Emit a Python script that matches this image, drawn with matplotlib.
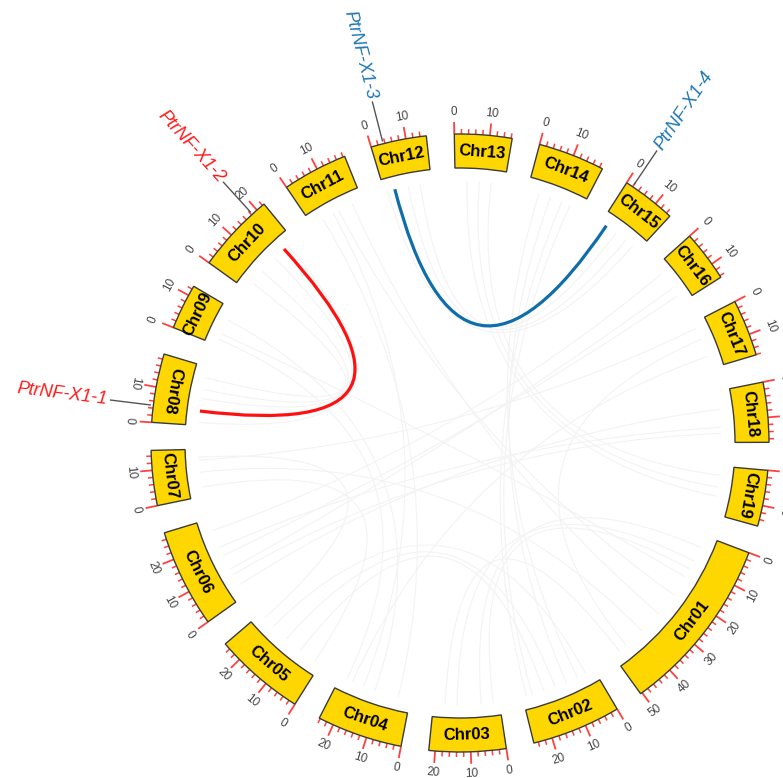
import numpy as np
import matplotlib
matplotlib.use("Agg")
import matplotlib.pyplot as plt
from matplotlib.patches import Wedge, PathPatch
from matplotlib.path import Path

plt.rcParams['font.family'] = ['Liberation Sans', 'DejaVu Sans']

# Poplar chromosomes and their lengths (Mb)
chromosomes = ["Chr01", "Chr02", "Chr03", "Chr04", "Chr05", "Chr06", "Chr07",
               "Chr08", "Chr09", "Chr10", "Chr11", "Chr12", "Chr13", "Chr14",
               "Chr15", "Chr16", "Chr17", "Chr18", "Chr19"]
lengths_mb = [50.5, 25.3, 21.8, 24.3, 25.9, 27.9, 15.6, 19.5, 12.9, 22.6,
              18.5, 15.8, 16.3, 18.9, 15.3, 14.5, 16.1, 17.0, 15.9]

# NF-X1 genes: name, chromosome, position (Mb), colour group
genes = ["PtrNF-X1-1", "PtrNF-X1-2", "PtrNF-X1-3", "PtrNF-X1-4"]
gene_chr = ["Chr08", "Chr10", "Chr12", "Chr15"]
gene_pos = [4.8, 18.3, 3.5, 2.0]
gene_colors = ["#ff1a1a", "#ff1a1a", "#1f78b4", "#1f78b4"]

# segmental duplication pairs (indices into genes)
dup_pairs = [(0, 1), (2, 3)]
dup_colors = ["#ff1010", "#0f6eaa"]

# genome-wide collinear blocks drawn as a faint background
bg_links = [
    ("Chr01", 4, "Chr03", 6), ("Chr01", 9, "Chr03", 14), ("Chr01", 15, "Chr09", 4),
    ("Chr01", 22, "Chr11", 10), ("Chr01", 30, "Chr11", 15), ("Chr01", 38, "Chr07", 8),
    ("Chr01", 45, "Chr17", 6), ("Chr02", 3, "Chr05", 20), ("Chr02", 10, "Chr14", 8),
    ("Chr02", 18, "Chr05", 8), ("Chr02", 22, "Chr14", 15), ("Chr03", 18, "Chr01", 48),
    ("Chr04", 4, "Chr11", 4), ("Chr04", 12, "Chr09", 9), ("Chr04", 20, "Chr17", 12),
    ("Chr05", 2, "Chr07", 3), ("Chr05", 14, "Chr02", 14), ("Chr06", 4, "Chr18", 6),
    ("Chr06", 10, "Chr16", 9), ("Chr06", 18, "Chr18", 12), ("Chr06", 24, "Chr16", 3),
    ("Chr07", 12, "Chr17", 2), ("Chr08", 12, "Chr10", 8), ("Chr08", 16, "Chr10", 3),
    ("Chr09", 2, "Chr04", 22), ("Chr10", 14, "Chr08", 9), ("Chr11", 8, "Chr04", 16),
    ("Chr12", 8, "Chr15", 10), ("Chr12", 12, "Chr15", 6), ("Chr13", 4, "Chr19", 10),
    ("Chr13", 12, "Chr19", 3), ("Chr14", 4, "Chr02", 6), ("Chr14", 12, "Chr02", 24),
    ("Chr16", 12, "Chr06", 15), ("Chr18", 14, "Chr06", 8), ("Chr19", 7, "Chr13", 8),
    ("Chr05", 24, "Chr07", 13), ("Chr03", 2, "Chr01", 12), ("Chr10", 20, "Chr08", 1),
    ("Chr15", 13, "Chr12", 1),
]

# ---- circular layout ----
START_DEG = -20.8      # angle where Chr01 begins
GAP_DEG = 5.2
FLIP_OFFSET = 20.0
R_IN, R_OUT = 275, 309
R_LINK = 262
R_TICKLAB = 331
scale = (360 - GAP_DEG * len(chromosomes)) / sum(lengths_mb)

starts = {}
a = START_DEG
for name, ln in zip(chromosomes, lengths_mb):
    starts[name] = a
    a -= ln * scale + GAP_DEG


def ang(chrom, pos):
    return starts[chrom] - pos * scale


def polar(r, theta):
    t = np.deg2rad(theta)
    return r * np.cos(t), r * np.sin(t)


def tangent_rot(theta):
    rot = theta - 90
    t = (theta + FLIP_OFFSET) % 360
    if 180 < t < 360:
        rot += 180
    return rot


fig = plt.figure(figsize=(7.83, 7.78), dpi=100)
ax = fig.add_axes([0, 0, 1, 1])
ax.set_xlim(-460, 323)
ax.set_ylim(-335, 443)
ax.axis('off')

# faint background links
for c1, p1, c2, p2 in bg_links:
    P0 = polar(R_LINK, ang(c1, p1))
    P2 = polar(R_LINK, ang(c2, p2))
    path = Path([P0, (0, 0), P2], [Path.MOVETO, Path.CURVE3, Path.CURVE3])
    ax.add_patch(PathPatch(path, fill=False, edgecolor="#f3f3f3", lw=0.8, zorder=1))

# chromosome boxes, ticks and labels
for name, ln in zip(chromosomes, lengths_mb):
    s = starts[name]
    e = ang(name, ln)
    ax.add_patch(Wedge((0, 0), R_OUT, e, s, width=R_OUT - R_IN,
                       facecolor="#FFD700", edgecolor="#3a3a3a", lw=1.0, zorder=3))
    mid = (s + e) / 2
    x, y = polar((R_IN + R_OUT) / 2, mid)
    ax.text(x, y, name, rotation=tangent_rot(mid), ha='center', va='center',
            fontsize=12, fontweight='bold', color='black', zorder=4,
            rotation_mode='anchor')
    for pos in range(0, int(ln) + 1, 2):
        th = ang(name, pos)
        major = pos % 10 == 0
        r2 = R_OUT + (12 if major else 5)
        x1, y1 = polar(R_OUT, th)
        x2, y2 = polar(r2, th)
        ax.plot([x1, x2], [y1, y2], color="#ff4040", lw=1.3 if major else 1.1,
                solid_capstyle='butt', zorder=2)
        if major:
            tx, ty = polar(R_TICKLAB, th)
            ax.text(tx, ty, str(pos), rotation=tangent_rot(th), ha='center',
                    va='center', fontsize=8.5, color='#444444',
                    rotation_mode='anchor', zorder=4)

# gene labels with leader lines
for g, c, p, col in zip(genes, gene_chr, gene_pos, gene_colors):
    th = ang(c, p)
    x1, y1 = polar(R_OUT + 3, th)
    x2, y2 = polar(352, th)
    ax.plot([x1, x2], [y1, y2], color="#555555", lw=1.0, zorder=2)
    tx, ty = polar(355, th)
    t = (th + FLIP_OFFSET) % 360
    if 90 < t < 270:
        rot, ha = th - 180, 'right'
    else:
        rot, ha = th, 'left'
    ax.text(tx, ty, g, rotation=rot, ha=ha, va='center', rotation_mode='anchor',
            fontsize=13, style='italic', color=col, zorder=4)

# duplication links between gene pairs
for (i, j), col in zip(dup_pairs, dup_colors):
    P0 = polar(R_LINK, ang(gene_chr[i], gene_pos[i]))
    P2 = polar(R_LINK, ang(gene_chr[j], gene_pos[j]))
    path = Path([P0, (0, 0), P2], [Path.MOVETO, Path.CURVE3, Path.CURVE3])
    ax.add_patch(PathPatch(path, fill=False, edgecolor=col, lw=2.3, zorder=5))

fig.savefig("out.png", dpi=100, facecolor="white")
